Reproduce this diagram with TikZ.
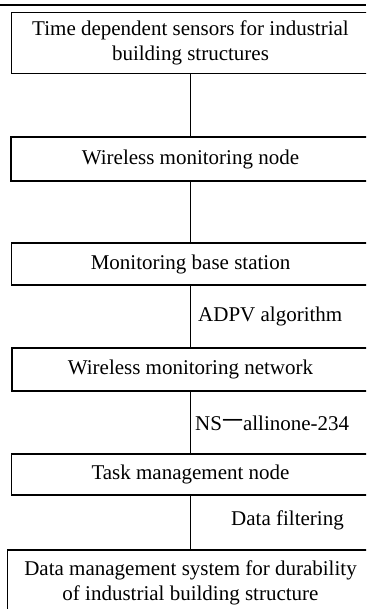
\documentclass[tikz,border=0pt]{standalone}
\usepackage{fontspec}
\setmainfont{Liberation Serif}
\newfontfamily\cjk{Noto Sans CJK SC}
\begin{document}
\begin{tikzpicture}[x=1pt,y=-1pt,
  box/.style={draw=black,line width=1.3pt,minimum width=#1,inner sep=0pt,align=center,font=\fontsize{21}{25}\selectfont},
  lbl/.style={anchor=west,inner sep=0pt,font=\fontsize{21}{25}\selectfont},
  conn/.style={draw=black,line width=1.2pt}]
\useasboundingbox (0,0) rectangle (366,609);
\clip (0,0) rectangle (366,609);
\draw[line width=2.2pt] (0,5) -- (366,5);
\node[box=358pt,minimum height=61pt] (b1) at (190.5,43) {Time dependent sensors for industrial\\building structures};
\node[box=359pt,minimum height=44pt] (b2) at (190.5,159) {Wireless monitoring node};
\node[box=358pt,minimum height=42pt] (b3) at (190.5,264) {Monitoring base station};
\node[box=357pt,minimum height=43pt] (b4) at (190.5,369.5) {Wireless monitoring network};
\node[box=358pt,minimum height=41pt] (b5) at (190.5,474.5) {Task management node};
\node[box=366pt,minimum height=65pt] (b6) at (190.5,582.5) {Data management system for durability\\of industrial building structure};
\draw[conn] (b1.south) -- (b2.north);
\draw[conn] (b2.south) -- (b3.north);
\draw[conn] (b3.south) -- (b4.north);
\draw[conn] (b4.south) -- (b5.north);
\draw[conn] (b5.south) -- (b6.north);
\node[lbl] (l1) at (198,316) {ADPV algorithm};
\node[lbl] (l2) at (195,423) {NS\raisebox{2pt}{\cjk 一}allinone-234};
\node[lbl] (l3) at (231,520) {Data filtering};
\end{tikzpicture}
\end{document}
